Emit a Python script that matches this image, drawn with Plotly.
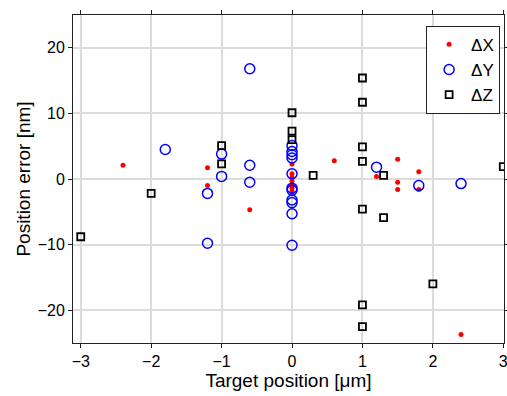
import plotly.graph_objects as go

# Delta X
dx_x = [-2.4, -1.2, -1.2, -0.6, 0, 0, 0, 0, 0, 0, 0, 0.6, 1.2, 1.5, 1.5, 1.5, 1.8, 1.8, 2.4]
dx_y = [2.1, 1.7, -1.0, -4.7, 2.3, 0.8, 0.2, -0.3, -0.9, -1.4, -1.9, 2.8, 0.4, 3.0, -0.5, -1.6, 1.1, -1.6, -23.7]

# Delta Y
dy_x = [-1.8, -1.2, -1.2, -1.0, -1.0, -0.6, -0.6, -0.6, 0, 0, 0, 0, 0, 0, 0, 0, 0, 0, 0, 1.2, 1.8, 2.4]
dy_y = [4.5, -2.2, -9.8, 3.8, 0.4, 16.8, 2.1, -0.5, 5.1, 4.2, 3.7, 3.2, 0.8, -1.4, -1.7, -3.2, -3.6, -5.3, -10.1, 1.8, -1.0, -0.7]

# Delta Z
dz_x = [-3, -2, -1, -1, 0, 0, 0, 0.3, 1, 1, 1, 1, 1, 1, 1, 1.3, 1.3, 2, 2, 3]
dz_y = [-8.8, -2.2, 5.1, 2.3, 10.1, 7.3, 6.0, 0.55, 15.4, 11.7, 4.9, 2.7, -4.6, -19.2, -22.5, 0.55, -5.9, 10.7, -16.0, 1.9]

x_ticks = [-3, -2, -1, 0, 1, 2, 3]
y_ticks = [-20, -10, 0, 10, 20]

fig = go.Figure()
fig.add_trace(go.Scatter(x=dx_x, y=dx_y, mode="markers", name="ΔX",
                         marker=dict(symbol="circle", size=5, color="#ff0000")))
fig.add_trace(go.Scatter(x=dy_x, y=dy_y, mode="markers", name="ΔY",
                         marker=dict(symbol="circle-open", size=10, color="#0000ff",
                                     line=dict(width=1.5, color="#0000ff"))))
fig.add_trace(go.Scatter(x=dz_x, y=dz_y, mode="markers", name="ΔZ",
                         marker=dict(symbol="square-open", size=7, color="#000000",
                                     line=dict(width=1.8, color="#000000"))))

fig.update_layout(
    width=507, height=396,
    margin=dict(l=73, r=3, t=15, b=53, autoexpand=False),
    paper_bgcolor="white", plot_bgcolor="white",
    font=dict(family="Liberation Sans, Arial, sans-serif", size=16, color="#000000"),
    showlegend=True,
    legend=dict(x=0.991, y=0.967, xanchor="right", yanchor="top",
                bordercolor="#222222", borderwidth=1, bgcolor="white",
                font=dict(size=17), itemwidth=34,
                tracegroupgap=0),
)
fig.update_xaxes(
    range=[-3.11, 3.01], tickvals=x_ticks, automargin=False,
    ticklabeloverflow="allow",
    showgrid=True, gridcolor="#dcdcdc", gridwidth=1.5, zeroline=False,
    showline=True, linecolor="#222222", linewidth=1, mirror="ticks",
    ticks="outside", ticklen=4, tickcolor="#222222",
    title=dict(text="Target position [μm]", font=dict(size=19), standoff=1),
)
fig.update_yaxes(
    range=[-25, 25], tickvals=y_ticks, automargin=False,
    ticklabeloverflow="allow",
    showgrid=True, gridcolor="#dcdcdc", gridwidth=1.5, zeroline=False,
    showline=True, linecolor="#222222", linewidth=1, mirror="ticks",
    ticks="outside", ticklen=4, tickcolor="#222222",
    title=dict(text="Position error [nm]", font=dict(size=19), standoff=2),
)

fig.write_html("out.html",
               config={"displayModeBar": False},
               post_script="document.body.style.margin='0';document.body.style.overflow='hidden';")
